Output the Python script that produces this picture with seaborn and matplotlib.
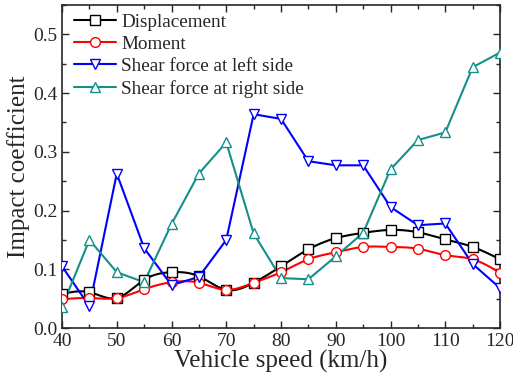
import numpy as np
import pandas as pd
import matplotlib
matplotlib.use("Agg")
import matplotlib.pyplot as plt
import seaborn as sns
from matplotlib.ticker import MultipleLocator
from matplotlib.lines import Line2D

speed = [40, 45, 50, 55, 60, 65, 70, 75, 80, 85, 90, 95, 100, 105, 110, 115, 120]
displacement = [0.058, 0.061, 0.051, 0.082, 0.095, 0.088, 0.065, 0.077, 0.105, 0.134, 0.153, 0.162, 0.167, 0.163, 0.151, 0.138, 0.117]
moment = [0.049, 0.051, 0.051, 0.066, 0.078, 0.077, 0.065, 0.077, 0.095, 0.117, 0.129, 0.138, 0.138, 0.135, 0.124, 0.117, 0.094]
shear_left = [0.105, 0.037, 0.263, 0.136, 0.073, 0.087, 0.150, 0.364, 0.356, 0.284, 0.277, 0.277, 0.206, 0.175, 0.178, 0.109, 0.068]
shear_right = [0.036, 0.150, 0.095, 0.078, 0.177, 0.263, 0.316, 0.161, 0.085, 0.083, 0.122, 0.162, 0.270, 0.320, 0.333, 0.444, 0.469]

labels = ["Displacement", "Moment", "Shear force at left side", "Shear force at right side"]
colors = ["black", "red", "blue", "#148f8a"]
markers = ["s", "o", "v", "^"]


def natural_spline(x, y, n=400):
    x = np.asarray(x, float)
    y = np.asarray(y, float)
    k = len(x)
    h = np.diff(x)
    A = np.zeros((k, k))
    r = np.zeros(k)
    A[0, 0] = A[-1, -1] = 1
    for i in range(1, k - 1):
        A[i, i - 1] = h[i - 1]
        A[i, i] = 2 * (h[i - 1] + h[i])
        A[i, i + 1] = h[i]
        r[i] = 3 * ((y[i + 1] - y[i]) / h[i] - (y[i] - y[i - 1]) / h[i - 1])
    c = np.linalg.solve(A, r)
    xs = np.linspace(x[0], x[-1], n)
    idx = np.clip(np.searchsorted(x, xs) - 1, 0, k - 2)
    dx = xs - x[idx]
    b = (y[1:] - y[:-1]) / h - h * (2 * c[:-1] + c[1:]) / 3
    d = (c[1:] - c[:-1]) / (3 * h)
    ys = y[idx] + b[idx] * dx + c[idx] * dx ** 2 + d[idx] * dx ** 3
    return xs, ys


sns.set_style("ticks")
plt.rcParams["font.family"] = ["Liberation Serif", "DejaVu Serif"]

fig = plt.figure(figsize=(5.13, 3.83), dpi=100)
ax = fig.add_axes([0.1209, 0.1436, 0.8538, 0.8434])

series = [displacement, moment, shear_left, shear_right]
smooth = [True, True, False, False]
for vals, lab, col, mk, sm in zip(series, labels, colors, markers, smooth):
    if sm:
        xs, ys = natural_spline(speed, vals)
        sns.lineplot(x=xs, y=ys, ax=ax, color=col, lw=1.5, legend=False)
    else:
        sns.lineplot(x=speed, y=vals, ax=ax, color=col, lw=1.5, legend=False)
    ax.plot(speed, vals, linestyle="none", marker=mk, markersize=7,
            markerfacecolor="white", markeredgecolor=col, markeredgewidth=1.0, zorder=3)

handles = [Line2D([], [], color=c, lw=1.5, marker=m, markersize=7,
                  markerfacecolor="white", markeredgecolor=c) for c, m in zip(colors, markers)]
ax.legend(handles, labels, loc="upper left", frameon=False, fontsize=13.8,
          handlelength=2.2, handletextpad=0.3, labelspacing=0.25,
          borderaxespad=0.2, bbox_to_anchor=(0.0, 1.01))

ax.set_xlim(40, 120)
ax.set_ylim(0, 0.55)
ax.xaxis.set_major_locator(MultipleLocator(10))
ax.xaxis.set_minor_locator(MultipleLocator(5))
ax.yaxis.set_major_locator(MultipleLocator(0.1))
ax.yaxis.set_minor_locator(MultipleLocator(0.05))
ax.yaxis.set_major_formatter(matplotlib.ticker.FormatStrFormatter("%.1f"))
ax.tick_params(which="both", direction="in", top=True, right=True, labelsize=14, width=1)
ax.tick_params(which="major", length=5)
ax.tick_params(which="minor", length=3)
for s in ax.spines.values():
    s.set_linewidth(1.2)
ax.set_xlabel("Vehicle speed (km/h)", fontsize=18, labelpad=0)
ax.set_ylabel("Impact coefficient", fontsize=18, labelpad=2)

fig.savefig("out.png", dpi=100)
